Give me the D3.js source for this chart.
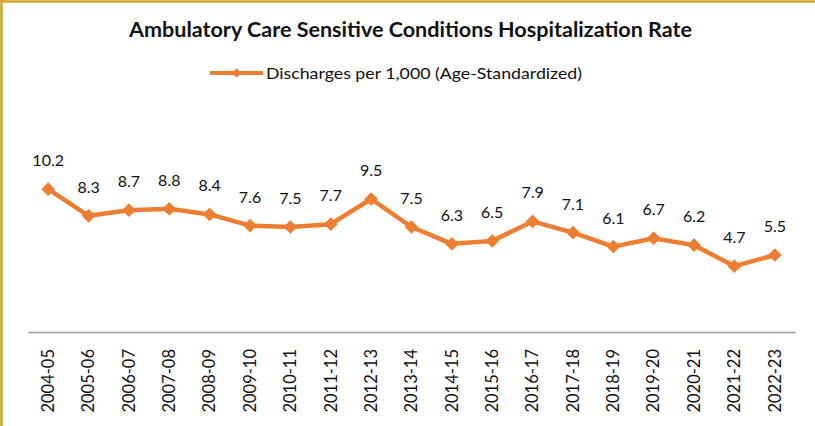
<!DOCTYPE html>
<html>
<head>
<meta charset="utf-8">
<script src="https://cdn.jsdelivr.net/npm/d3@7"></script>
<style>
  html, body { margin: 0; padding: 0; background: #fff; }
  svg { display: block; }
</style>
</head>
<body>
<svg id="chart" width="815" height="426"></svg>
<script>
// Fiscal years and age-standardized ACSC discharges per 1,000
const years = ["2004-05","2005-06","2006-07","2007-08","2008-09","2009-10","2010-11","2011-12","2012-13","2013-14",
               "2014-15","2015-16","2016-17","2017-18","2018-19","2019-20","2020-21","2021-22","2022-23"];
const rates = [10.2, 8.3, 8.7, 8.8, 8.4, 7.6, 7.5, 7.7, 9.5, 7.5,
               6.3, 6.5, 7.9, 7.1, 6.1, 6.7, 6.2, 4.7, 5.5];
const seriesName = "Discharges per 1,000 (Age-Standardized)";
const chartTitle = "Ambulatory Care Sensitive Conditions Hospitalization Rate";
const yDomain = [0, 12];

const svg = d3.select("#chart");
const W = 815, H = 426;
const orange = "#ED7D31";
const font = "Lato, 'Open Sans', sans-serif";

// frame (top and left edges)
svg.append("line").attr("x1", 0).attr("x2", W).attr("y1", 1.5).attr("y2", 1.5)
  .attr("stroke", "#D0A527").attr("stroke-width", 2.5);
svg.append("line").attr("x1", 1.5).attr("x2", 1.5).attr("y1", 0).attr("y2", H)
  .attr("stroke", "#D0A527").attr("stroke-width", 2.5);

const plot = { left: 28, right: 795, top: 164, bottom: 332 };

const x = d3.scaleBand().domain(years).range([plot.left, plot.right]);
const y = d3.scaleLinear().domain(yDomain).range([plot.bottom, plot.top]);
const cx = d => x(d) + x.bandwidth() / 2;

// title
svg.append("text").attr("x", 129).attr("y", 37)
  .attr("textLength", 563).attr("lengthAdjust", "spacingAndGlyphs")
  .attr("font-family", font).attr("font-weight", "bold").attr("font-size", 20)
  .attr("fill", "#111").text(chartTitle);

// legend
const lg = svg.append("g").attr("transform", "translate(0,73)");
lg.append("line").attr("x1", 210).attr("x2", 263).attr("y1", 0).attr("y2", 0)
  .attr("stroke", orange).attr("stroke-width", 4);
lg.append("path").attr("d", d3.symbol(d3.symbolDiamond2, 60)())
  .attr("transform", "translate(236.5,0)").attr("fill", orange);
lg.append("text").attr("x", 266).attr("y", 5.5)
  .attr("textLength", 316).attr("lengthAdjust", "spacingAndGlyphs")
  .attr("font-family", font)
  .attr("font-size", 16).attr("fill", "#111").text(seriesName);

// x axis
const xAxis = svg.append("g").attr("transform", `translate(0,${plot.bottom})`)
  .call(d3.axisBottom(x).tickSize(0).tickPadding(0));
xAxis.select(".domain").attr("stroke", "#9a9a9a").attr("stroke-width", 1.5);
xAxis.selectAll(".tick text")
  .attr("font-family", font).attr("font-size", 16.5).attr("fill", "#111")
  .attr("transform", "rotate(-90)")
  .attr("text-anchor", "end")
  .attr("x", -17).attr("y", 0).attr("dy", "0.35em");

// line
const line = d3.line().x((d, i) => cx(years[i])).y(d => y(d));
svg.append("path").datum(rates).attr("d", line)
  .attr("fill", "none").attr("stroke", orange).attr("stroke-width", 4.5)
  .attr("stroke-linejoin", "round");

// markers
svg.selectAll(".mk").data(rates).join("path").attr("class", "mk")
  .attr("d", d3.symbol(d3.symbolDiamond2, 120)())
  .attr("transform", (d, i) => `translate(${cx(years[i])},${y(d)})`)
  .attr("fill", orange);

// value labels
svg.selectAll(".lbl").data(rates).join("text").attr("class", "lbl")
  .attr("x", (d, i) => cx(years[i])).attr("y", d => y(d) - 23)
  .attr("text-anchor", "middle").attr("font-family", font).attr("font-size", 16)
  .attr("fill", "#111").text(d => d3.format(".1f")(d));
</script>
</body>
</html>
